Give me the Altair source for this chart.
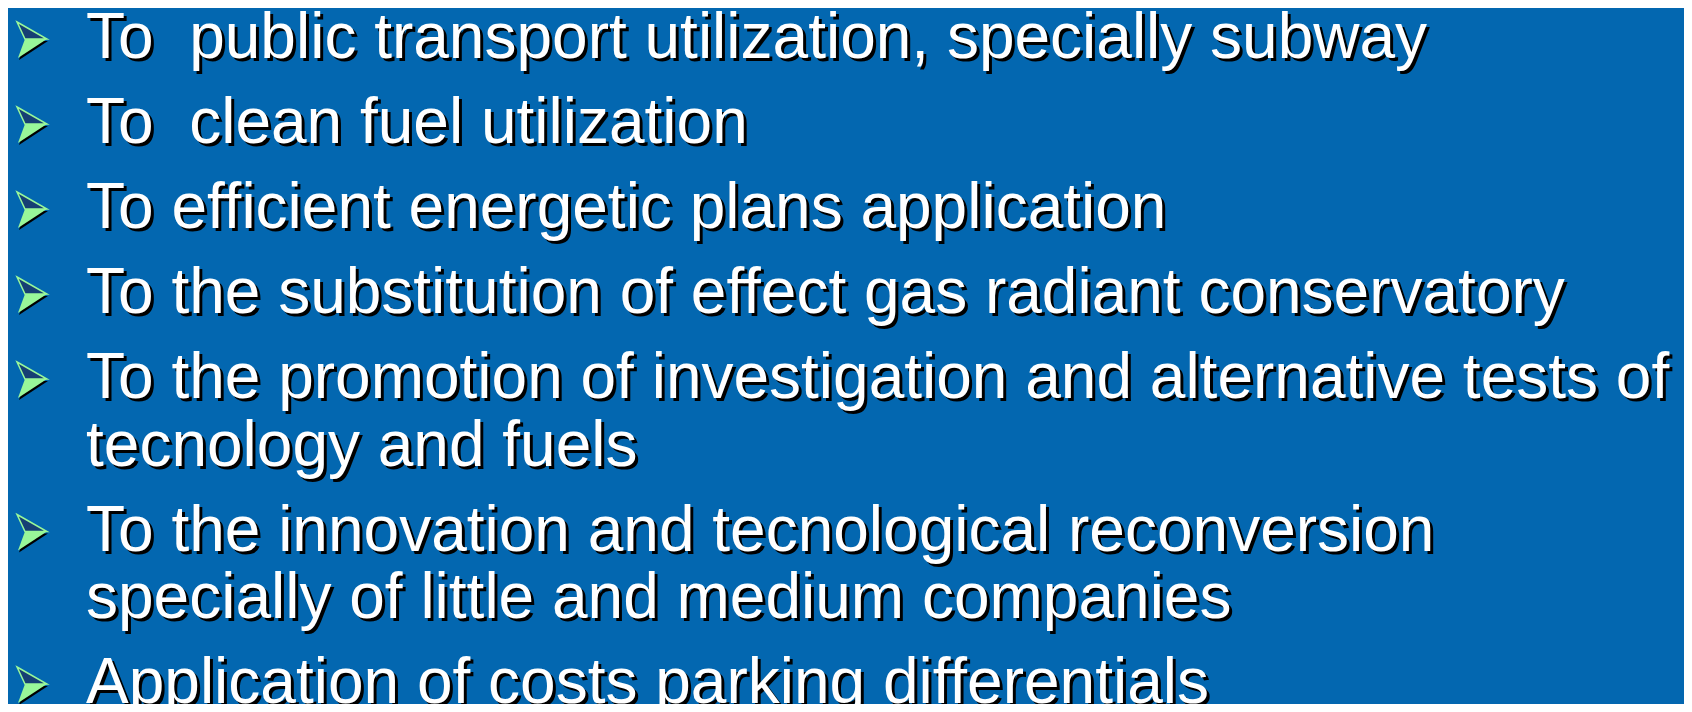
import altair as alt
import pandas as pd

# ---- content ----
bullets = [
    ["To\u00a0 public transport utilization, specially subway"],
    ["To\u00a0 clean fuel utilization"],
    ["To efficient energetic plans application"],
    ["To the substitution of effect gas radiant conservatory"],
    ["To the promotion of investigation and alternative tests of",
     "tecnology and fuels"],
    ["To the innovation and tecnological reconversion",
     "specially of little and medium companies"],
    ["Application of costs parking differentials"],
]

# layout: a new bullet advances 1 slot, a wrapped line advances a bit less
PARA_STEP = 1.0
WRAP_STEP = 67.5 / 85.0

rows = []
bullet_rows = []
pos = 0.0
for i, lines in enumerate(bullets):
    if i > 0:
        pos += PARA_STEP
    bullet_rows.append({"col": 0, "pos": pos})
    for j, line in enumerate(lines):
        if j > 0:
            pos += WRAP_STEP
        rows.append({"col": 1, "pos": pos, "text": line})

text_df = pd.DataFrame(rows)
bullet_df = pd.DataFrame(bullet_rows)

W, H = 1676, 696
BG = "#0367b0"

# scales: text column at x=78, bullets centred at x=24; first baseline at 50, 85px per slot
x_scale = alt.Scale(domain=[-24 / 54, (W - 24) / 54], range=[0, W])
y_scale = alt.Scale(domain=[-50 / 85, (H - 50) / 85], range=[0, H])

X = alt.X("col:Q", scale=x_scale, axis=None)
Y = alt.Y("pos:Q", scale=y_scale, axis=None)

font = "Liberation Sans"
FS = 64

shadow = alt.Chart(text_df).mark_text(
    align="left", baseline="alphabetic", font=font, fontSize=FS,
    color="#000000", dx=3, dy=3
).encode(x=X, y=Y, text="text:N")

txt = alt.Chart(text_df).mark_text(
    align="left", baseline="alphabetic", font=font, fontSize=FS,
    color="#ffffff"
).encode(x=X, y=Y, text="text:N")

# arrow head bullet (centred 18px above baseline)
upper = "M -0.83 -1 L 0.83 -0.05 L -0.39 -0.05 Z"
lower = "M -0.39 -0.05 L 0.83 -0.05 L -0.78 1 Z"

b_shadow = alt.Chart(bullet_df).mark_point(
    shape=lower, size=1296, filled=True, color="#000000", opacity=1,
    xOffset=1, yOffset=-16
).encode(x=X, y=Y)
b_lower = alt.Chart(bullet_df).mark_point(
    shape=lower, size=1296, filled=True, color="#99f799", opacity=1,
    yOffset=-18
).encode(x=X, y=Y)
b_upper = alt.Chart(bullet_df).mark_point(
    shape=upper, size=1296, filled=True, fill="#163f74", stroke="#99f799",
    strokeWidth=1.5, opacity=1, fillOpacity=1, yOffset=-18
).encode(x=X, y=Y)

chart = alt.layer(b_shadow, b_lower, b_upper, shadow, txt).properties(
    width=W, height=H, background=BG, padding=0,
    autosize=alt.AutoSizeParams(type="none")
).configure_view(stroke=None, fill=BG)

chart.save("out.html", embed_options={"renderer": "svg", "actions": False})
